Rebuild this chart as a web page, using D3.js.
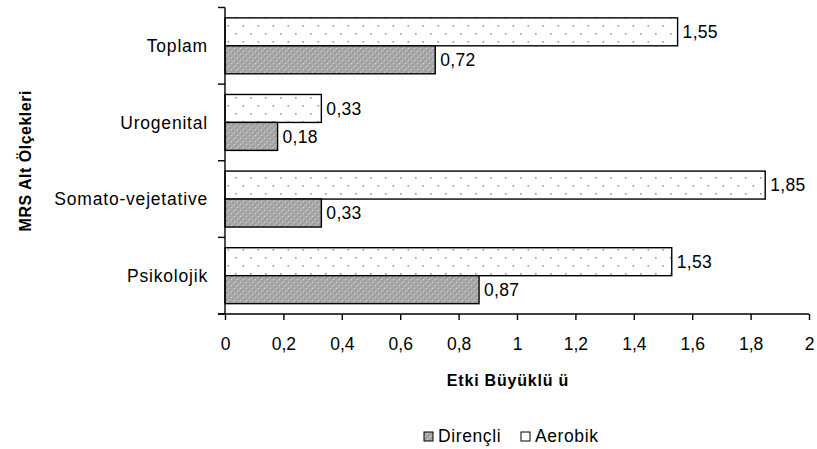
<!DOCTYPE html>
<html>
<head>
<meta charset="utf-8">
<script src="https://cdn.jsdelivr.net/npm/d3@7"></script>
<style>
  html, body { margin: 0; padding: 0; background: #fff; }
  svg { display: block; font-family: "Liberation Sans", Arial, sans-serif; }
</style>
</head>
<body>
<svg id="chart" width="817" height="449"></svg>
<script>
// Subscale names, top to bottom
const categories = ["Toplam", "Urogenital", "Somato-vejetative", "Psikolojik"];
// Effect sizes per group
const aerobik = [1.55, 0.33, 1.85, 1.53];
const direncli = [0.72, 0.18, 0.33, 0.87];
const seriesNames = ["Dirençli", "Aerobik"];
const xTicks = [0, 0.2, 0.4, 0.6, 0.8, 1, 1.2, 1.4, 1.6, 1.8, 2];
const xTitle = "Etki Büyüklü ü";
const yTitle = "MRS Alt Ölçekleri";

const svg = d3.select("#chart");
const plotLeft = 225, plotRight = 809, plotTop = 7.5, plotBottom = 314;
const FONT = 17.5;

const defs = svg.append("defs");
// Grey cross-hatched fill
const hatch = defs.append("pattern").attr("id", "pDir")
  .attr("patternUnits", "userSpaceOnUse").attr("width", 6).attr("height", 6);
hatch.append("rect").attr("width", 6).attr("height", 6).attr("fill", "#a6a6a6");
hatch.append("rect").attr("x", 0).attr("y", 0).attr("width", 1).attr("height", 1).attr("fill", "#dadada");
hatch.append("rect").attr("x", 3).attr("y", 3).attr("width", 1).attr("height", 1).attr("fill", "#dadada");
hatch.append("rect").attr("x", 1.5).attr("y", 1.5).attr("width", 1).attr("height", 1).attr("fill", "#878787");
hatch.append("rect").attr("x", 4.5).attr("y", 4.5).attr("width", 1).attr("height", 1).attr("fill", "#878787");
hatch.append("rect").attr("x", 1.5).attr("y", 4.5).attr("width", 1).attr("height", 1).attr("fill", "#c6c6c6");
hatch.append("rect").attr("x", 4.5).attr("y", 1.5).attr("width", 1).attr("height", 1).attr("fill", "#c6c6c6");
// Sparse dotted fill
const dots = defs.append("pattern").attr("id", "pAer")
  .attr("patternUnits", "userSpaceOnUse").attr("width", 15).attr("height", 16)
  .attr("x", plotLeft);
dots.append("rect").attr("width", 15).attr("height", 16).attr("fill", "#fff");
dots.append("rect").attr("x", 10).attr("y", 1).attr("width", 1.6).attr("height", 1.6).attr("fill", "#999");
dots.append("rect").attr("x", 2.5).attr("y", 9).attr("width", 1.6).attr("height", 1.6).attr("fill", "#999");

const x = d3.scaleLinear().domain([0, 2]).range([plotLeft, plotRight]);
const y = d3.scaleBand().domain(categories).range([plotTop, plotBottom])
  .paddingInner(0).paddingOuter(0);
const inner = d3.scaleBand().domain(["Aerobik", "Dirençli"])
  .range([0, y.bandwidth()]).paddingInner(0).paddingOuter(0.37);

const fills = { "Aerobik": "url(#pAer)", "Dirençli": "url(#pDir)" };
const rows = categories.map((c, i) => [
  { cat: c, s: "Aerobik", v: aerobik[i] },
  { cat: c, s: "Dirençli", v: direncli[i] }
]).flat();

// Bars
svg.append("g").selectAll("rect").data(rows).join("rect")
  .attr("x", x(0))
  .attr("y", d => y(d.cat) + inner(d.s))
  .attr("width", d => x(d.v) - x(0))
  .attr("height", inner.bandwidth())
  .attr("fill", d => fills[d.s])
  .attr("stroke", "#000").attr("stroke-width", 1.4);

// Value labels
svg.append("g").selectAll("text").data(rows).join("text")
  .attr("x", d => x(d.v) + 5)
  .attr("y", d => y(d.cat) + inner(d.s) + inner.bandwidth() / 2)
  .attr("dy", "0.36em")
  .attr("font-size", FONT).attr("letter-spacing", 0.3).attr("fill", "#000")
  .text(d => d3.format(".2f")(d.v).replace(".", ","));

// X axis
const xAxis = d3.axisBottom(x).tickValues(xTicks).tickSize(6).tickPadding(18)
  .tickFormat(d => String(d).replace(".", ","));
const gx = svg.append("g").attr("transform", `translate(0,${plotBottom})`).call(xAxis);
gx.select(".domain").remove();
gx.append("line").attr("x1", plotLeft - 7).attr("x2", plotRight).attr("stroke", "#000").attr("stroke-width", 1.4);
gx.selectAll(".tick line").attr("stroke", "#000").attr("stroke-width", 1.4);
gx.selectAll(".tick text").attr("font-size", FONT).attr("fill", "#000")
  .attr("font-family", "Liberation Sans, Arial, sans-serif");

// Y axis: ticks at category boundaries
const gy = svg.append("g");
gy.append("line").attr("x1", plotLeft).attr("x2", plotLeft).attr("y1", plotTop).attr("y2", plotBottom)
  .attr("stroke", "#000").attr("stroke-width", 1.4);
const bounds = categories.map(c => y(c)).concat([plotBottom]);
gy.selectAll("line.tk").data(bounds).join("line").attr("class", "tk")
  .attr("x1", plotLeft - 7).attr("x2", plotLeft).attr("y1", d => d).attr("y2", d => d)
  .attr("stroke", "#000").attr("stroke-width", 1.4);
gy.selectAll("text").data(categories).join("text")
  .attr("x", plotLeft - 17).attr("y", d => y(d) + y.bandwidth() / 2)
  .attr("dy", "0.36em").attr("text-anchor", "end")
  .attr("font-size", FONT).attr("letter-spacing", 0.8).attr("fill", "#000").text(d => d);

// Axis titles
svg.append("text").attr("x", (plotLeft + plotRight) / 2 - 9).attr("y", 386)
  .attr("text-anchor", "middle").attr("font-size", 16).attr("font-weight", "bold")
  .attr("letter-spacing", 0.8).text(xTitle);
svg.append("text").attr("transform", `translate(25,${(plotTop + plotBottom) / 2}) rotate(-90)`)
  .attr("text-anchor", "middle").attr("dy", "0.36em")
  .attr("font-size", 16).attr("font-weight", "bold").attr("letter-spacing", 0.5).text(yTitle);

// Legend
const legend = svg.append("g").attr("transform", "translate(0,436)");
const legendX = [424, 521];
const lg = legend.selectAll("g").data(seriesNames).join("g")
  .attr("transform", (d, i) => `translate(${legendX[i]},0)`);
lg.append("rect").attr("x", 0).attr("y", -4).attr("width", 9).attr("height", 9)
  .attr("fill", d => fills[d]).attr("stroke", "#000").attr("stroke-width", 1);
lg.append("text").attr("x", 14).attr("y", 0).attr("dy", "0.36em")
  .attr("font-size", FONT).attr("letter-spacing", 0.6).attr("fill", "#000").text(d => d);
</script>
</body>
</html>
